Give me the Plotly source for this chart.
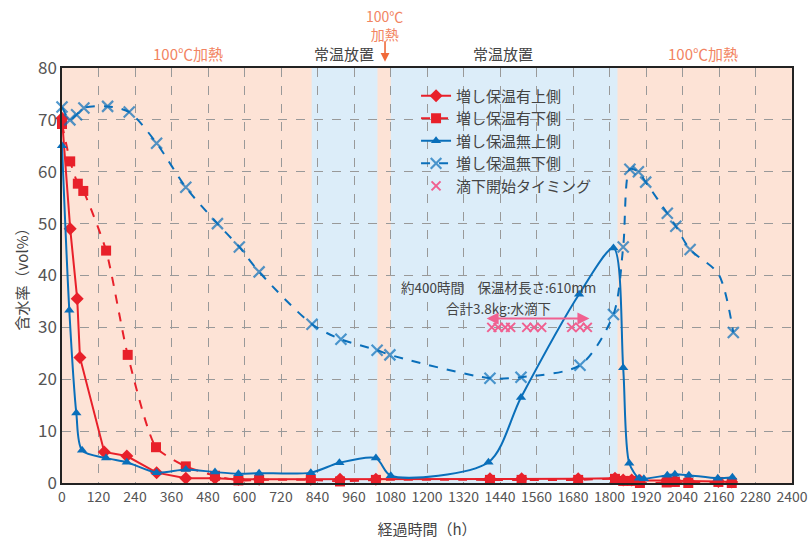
import plotly.graph_objects as go

# 増し保温有上側
top_ins_x = [0, 27, 50, 59, 139, 213, 311, 407, 503, 580, 648, 818, 914, 1032, 1407, 1511, 1697, 1818, 1845, 1873, 1900, 1988, 2015, 2059, 2158, 2202]
top_ins_y = [70.3, 49, 35.5, 24.2, 6.0, 5.2, 2.0, 0.9, 0.9, 0.7, 0.7, 0.7, 0.7, 0.7, 0.8, 0.8, 0.8, 0.9, 0.6, 0.6, 0.5, 0.5, 0.5, 0.4, 0.3, 0.2]

# 増し保温有下側
bot_ins_x = [0, 27, 52, 70, 145, 216, 309, 407, 503, 580, 648, 818, 914, 1032, 1407, 1511, 1697, 1818, 1845, 1873, 1900, 1988, 2015, 2059, 2158, 2202]
bot_ins_y = [69.2, 62.0, 57.7, 56.3, 44.8, 24.7, 6.9, 3.2, 1.4, 0.5, 0.6, 0.6, 0.3, 0.6, 0.6, 0.6, 0.6, 0.8, 0.4, 0.4, 0.0, 0.1, 0.2, 0.0, 0.2, 0.0]

# 増し保温無上側
top_bare_x = [0, 24, 47, 66, 145, 213, 311, 407, 503, 580, 648, 818, 912, 1032, 1081, 1402, 1509, 1700, 1813, 1845, 1865, 1897, 1913, 1990, 2015, 2061, 2156, 2204]
top_bare_y = [65, 33.3, 13.5, 6.3, 4.8, 4.0, 2.0, 2.6, 2.1, 1.8, 1.9, 2.0, 3.9, 4.8, 1.4, 4.0, 16.5, 36.4, 45.3, 22.2, 3.8, 0.9, 0.8, 1.5, 1.7, 1.5, 0.9, 1.1]

# 増し保温無下側 (2158 h は曲線の折れ点で、記号なし)
bot_bare_x = [0, 26, 48, 72, 150, 221, 311, 407, 511, 583, 648, 822, 917, 1036, 1078, 1407, 1509, 1703, 1813, 1845, 1867, 1895, 1919, 1990, 2018, 2065, 2158, 2207]
bot_bare_y = [72.5, 70.0, 71.0, 72.3, 72.6, 71.5, 65.5, 57.0, 50.0, 45.5, 40.7, 30.6, 27.7, 25.6, 24.7, 20.2, 20.4, 22.7, 32.5, 45.5, 60.5, 60.0, 58.0, 52.0, 49.5, 45.0, 40.3, 29.0]
bot_bare_marker = [11] * 26 + [0, 11]

# 滴下開始タイミング
drip_x = [1413, 1434, 1457, 1475, 1528, 1552, 1577, 1676, 1703, 1727]
drip_y = [30] * 10

x_ticks = list(range(0, 2401, 120))
y_ticks = list(range(0, 81, 10))

# 区間: (開始, 終了, 種別)
periods = [(0, 821, "heat"), (821, 1038, "room"), (1038, 1081, "heat"), (1081, 1827, "room"), (1827, 2400, "heat")]

RED = "#e8202a"
BLUE = "#0a6fba"
PINK = "#f06090"
HEAT_BG = "#fde3d6"
ROOM_BG = "#dcedf9"
FONT = "Noto Sans CJK JP"

fig = go.Figure()

fig.add_trace(go.Scatter(
    x=bot_ins_x, y=bot_ins_y, name="増し保温有下側", mode="lines+markers",
    line=dict(color=RED, width=2, dash="dash", shape="spline", smoothing=0.6),
    marker=dict(symbol="square", size=10, color=RED),
    cliponaxis=False, legendrank=2))
fig.add_trace(go.Scatter(
    x=top_ins_x, y=top_ins_y, name="増し保温有上側", mode="lines+markers",
    line=dict(color=RED, width=2),
    marker=dict(symbol="diamond", size=10, color=RED),
    cliponaxis=False, legendrank=1))
fig.add_trace(go.Scatter(
    x=top_bare_x, y=top_bare_y, name="増し保温無上側", mode="lines+markers",
    line=dict(color=BLUE, width=2, shape="spline", smoothing=0.8),
    marker=dict(symbol="triangle-up", size=9, color=BLUE),
    cliponaxis=False, legendrank=3))
fig.add_trace(go.Scatter(
    x=bot_bare_x, y=bot_bare_y, name="増し保温無下側", mode="lines+markers",
    line=dict(color=BLUE, width=2, dash="dash", shape="spline", smoothing=0.8),
    marker=dict(symbol="x-thin", size=bot_bare_marker, color=BLUE, line=dict(color=BLUE, width=2.2)),
    cliponaxis=False, legendrank=4))
fig.add_trace(go.Scatter(
    x=drip_x, y=drip_y, name="滴下開始タイミング", mode="markers",
    marker=dict(symbol="x-thin", size=9, color=PINK, line=dict(color=PINK, width=2)),
    legendrank=5))

for x0, x1, kind in periods:
    fig.add_shape(type="rect", xref="x", yref="y", x0=x0, x1=x1, y0=0, y1=80,
                  fillcolor=HEAT_BG if kind == "heat" else ROOM_BG,
                  line=dict(width=0), layer="below")

# 区間ラベル
HEAT_TXT = "#f28462"
for xc, txt, col in [(414, "100℃加熱", HEAT_TXT), (927, "常温放置", "#444444"),
                     (1450, "常温放置", "#444444"), (2107, "100℃加熱", HEAT_TXT)]:
    fig.add_annotation(x=xc, y=1.034, xref="x", yref="paper", text=txt, showarrow=False,
                       font=dict(family=FONT, size=15, color=col), yanchor="middle")
fig.add_annotation(x=1060, y=1.104, xref="x", yref="paper", text="100℃<br>加熱",
                   showarrow=False, font=dict(family=FONT, size=14, color=HEAT_TXT),
                   yanchor="middle")
fig.add_annotation(x=1062, y=1.015, xref="x", yref="paper", text="", showarrow=True,
                   ax=0, ay=-22, arrowhead=2, arrowsize=1.1, arrowwidth=1.6,
                   arrowcolor="#f06a3a")

# 滴下期間の注記
fig.add_annotation(x=1436, y=37.7, text="約400時間　保温材長さ:610mm",
                   showarrow=False, font=dict(family=FONT, size=13.5, color="#444444"), borderpad=0)
fig.add_annotation(x=1436, y=33.8, text="合計3.8kg:水滴下",
                   showarrow=False, font=dict(family=FONT, size=13.5, color="#444444"), borderpad=0)
fig.add_annotation(x=1734, y=31.7, ax=1391, ay=31.7, axref="x", ayref="y", text="",
                   showarrow=True, arrowside="end+start", arrowhead=2, arrowsize=1.2,
                   arrowwidth=2, arrowcolor=PINK)

fig.update_layout(
    width=809, height=539,
    margin=dict(l=62, r=17, t=68, b=56, autoexpand=False),
    paper_bgcolor="white", plot_bgcolor=HEAT_BG,
    font=dict(family=FONT, color="#555555"),
    legend=dict(x=0.485, y=0.972, xanchor="left", yanchor="top",
                bgcolor="rgba(0,0,0,0)", font=dict(family=FONT, size=15, color="#444444"),
                tracegroupgap=0, itemwidth=30),
    showlegend=True,
)
fig.update_xaxes(
    range=[0, 2400], tickvals=x_ticks, ticktext=[str(v) for v in x_ticks],
    showgrid=True, gridcolor="#999999", griddash="dash", gridwidth=1,
    zeroline=False, showline=True, linecolor="#222222", linewidth=1.5, mirror=True,
    tickfont=dict(family=FONT, size=14, color="#555555"), ticks="", automargin=False,
    title=dict(text="経過時間（h）", font=dict(family=FONT, size=15, color="#444444"), standoff=20),
)
fig.update_yaxes(
    range=[0, 80], tickvals=y_ticks,
    showgrid=True, gridcolor="#999999", griddash="dash", gridwidth=1,
    zeroline=False, showline=True, linecolor="#222222", linewidth=1.5, mirror=True,
    tickfont=dict(family=FONT, size=17, color="#555555"), ticks="", automargin=False,
    title=dict(text="含水率（vol%）", font=dict(family=FONT, size=15, color="#444444"), standoff=6),
)

fig.write_html("out.html")
